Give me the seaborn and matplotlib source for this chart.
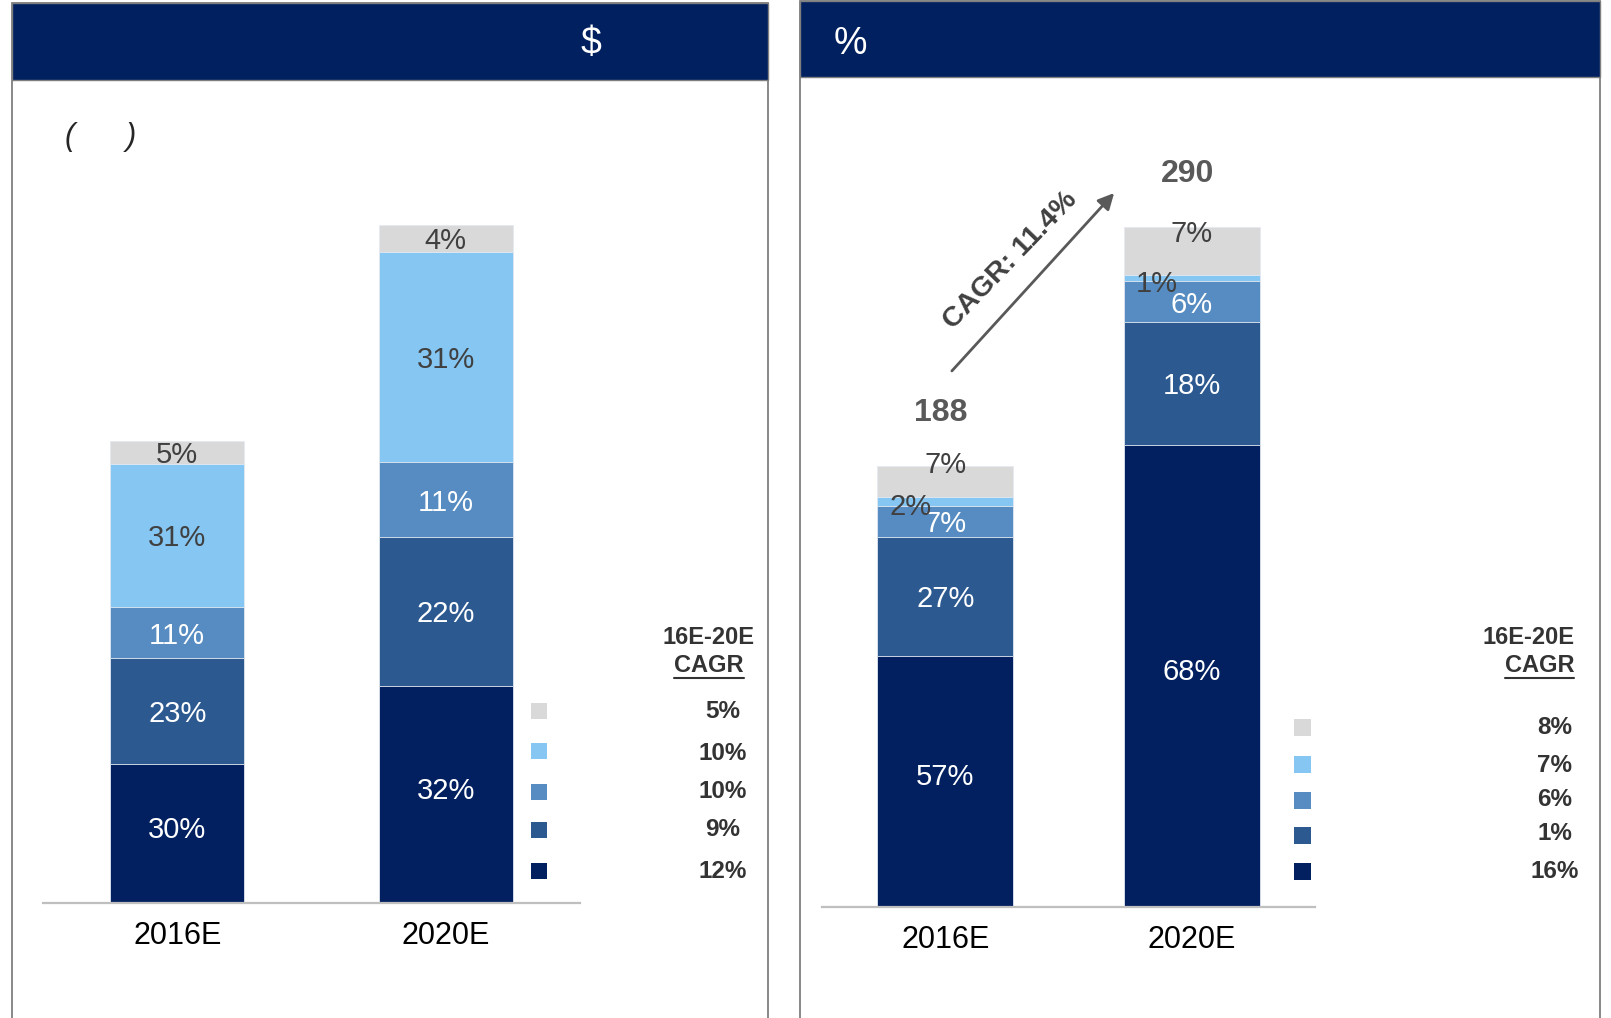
import pandas as pd
import seaborn as sns
import matplotlib.pyplot as plt
from matplotlib.patches import Rectangle
from matplotlib.lines import Line2D

# tamanho final da imagem em pixels
W, H = 1611, 1018

# dados (segmentos de baixo para cima)
anos = ["2016E", "2020E"]
segmentos = ["seg_1", "seg_2", "seg_3", "seg_4", "seg_5"]
cores = ["#02205F", "#2B5990", "#568CC1", "#85C6F3", "#D9D9D9"]
cor_texto = ["white", "white", "white", "#404040", "#404040"]

# painel esquerdo
esq_pct = [[30, 23, 11, 31, 5], [32, 22, 11, 31, 4]]
esq_totais = [150, 220]
esq_cagr = ["12%", "9%", "10%", "10%", "5%"]

# painel direito
dir_pct = [[57, 27, 7, 2, 7], [68, 18, 6, 1, 7]]
dir_totais = [188, 290]
dir_cagr = ["16%", "1%", "6%", "7%", "8%"]


def px(x, y):
    # converte pixel (origem no canto superior esquerdo) para fração da figura
    return x / W, 1 - y / H


def caixa(fig, x0, y0, x1, y1, **kw):
    (a, b), (c, d) = px(x0, y1), px(x1, y0)
    fig.add_artist(Rectangle((a, b), c - a, d - b, transform=fig.transFigure, **kw))


sns.set_style("white")
plt.rcParams['font.family'] = ['Liberation Sans', 'DejaVu Sans']

fig = plt.figure(figsize=(W / 100, H / 100), dpi=100)


def desenha_barras(ax, pcts, totais, largura, ajustes):
    linhas = []
    for ano, pct, tot in zip(anos, pcts, totais):
        acum = 0
        for seg, p in zip(segmentos, pct):
            linhas.append({"ano": ano, "seg": seg, "pct": p,
                           "base": tot * acum / 100, "topo": tot * (acum + p) / 100})
            acum += p
    df = pd.DataFrame(linhas)

    # empilhado: desenha o acumulado de cima para baixo, um por cima do outro
    for seg, cor in reversed(list(zip(segmentos, cores))):
        sns.barplot(data=df[df.seg == seg], x="ano", y="topo", order=anos,
                    color=cor, saturation=1, width=largura, errorbar=None,
                    edgecolor="#E4EAF2", linewidth=0.6, ax=ax)

    for _, r in df.iterrows():
        i = anos.index(r.ano)
        k = segmentos.index(r.seg)
        ax.annotate(f"{r.pct}%", (i, (r.base + r.topo) / 2),
                    xytext=ajustes.get(k, (0, 0)), textcoords="offset points",
                    ha="center", va="center_baseline", fontsize=21, color=cor_texto[k])

    ax.set_xlim(-0.5, 1.5)
    ax.set_xlabel("")
    ax.set_ylabel("")
    ax.set_yticks([])
    ax.set_facecolor("none")
    sns.despine(ax=ax, left=True)
    ax.spines["bottom"].set_color("#BFBFBF")
    ax.spines["bottom"].set_linewidth(1.6)
    ax.tick_params(axis="x", length=0, labelsize=22, pad=13, labelcolor="black")


# molduras e faixas de título
caixa(fig, 12, 3, 768, 1040, facecolor="none", edgecolor="#7F7F7F", lw=1.3)
caixa(fig, 12, 3, 768, 80, facecolor="#002060", edgecolor="#7F7F7F", lw=1.0)
caixa(fig, 800, 1, 1600, 1040, facecolor="none", edgecolor="#7F7F7F", lw=1.3)
caixa(fig, 800, 1, 1600, 77, facecolor="#002060", edgecolor="#7F7F7F", lw=1.0)

fig.text(*px(591, 44), "$", color="white", fontsize=27, ha="center", va="center")
fig.text(*px(850, 44), "%", color="white", fontsize=27, ha="center", va="center")
fig.text(*px(101, 137), "(      )", color="#262626", fontsize=22, style="italic",
         ha="center", va="center")

# painel esquerdo
ax1 = fig.add_axes([43 / W, 1 - 903 / H, (580 - 43) / W, 753 / H])
desenha_barras(ax1, esq_pct, esq_totais, 0.5, {0: (0, 5)})
ax1.set_ylim(0, 244.3)

# painel direito
ax2 = fig.add_axes([822 / W, 1 - 907 / H, (1315 - 822) / W, 757 / H])
desenha_barras(ax2, dir_pct, dir_totais, 0.55, {0: (0, 5), 3: (-25, -2), 4: (0, 14)})
ax2.set_ylim(0, 322.8)

for i, tot in enumerate(dir_totais):
    ax2.annotate(f"{tot}", (i, tot), xytext=(-3, 38), textcoords="offset points",
                 ha="center", va="center", fontsize=23, fontweight="bold", color="#595959")

# seta de CAGR
cagr_total = (dir_totais[1] / dir_totais[0]) ** (1 / 4) - 1
ax2.annotate("", xy=px(1116, 191), xytext=px(950, 373), xycoords="figure fraction",
             textcoords="figure fraction",
             arrowprops=dict(arrowstyle="-|>", color="#595959", lw=2, mutation_scale=24))
fig.text(*px(1010, 260), f"CAGR: {cagr_total * 100:.1f}%", rotation=46,
         rotation_mode="anchor", ha="center", va="center", fontsize=20.5,
         fontweight="bold", color="#404040")


# legendas de CAGR 16E-20E
def legenda(qx, qy, vx, vys, valores, tam, hx, ha, sub_x0, sub_x1):
    fig.text(*px(hx, 637), "16E-20E", ha=ha, va="center", fontsize=17,
             fontweight="bold", color="#333333")
    fig.text(*px(hx, 665), "CAGR", ha=ha, va="center", fontsize=17,
             fontweight="bold", color="#333333")
    (a, b), (c, _) = px(sub_x0, 678), px(sub_x1, 678)
    fig.add_artist(Line2D([a, c], [b, b], color="#333333", lw=1.5))
    for k in range(5):
        seg = 4 - k  # de cima para baixo
        caixa(fig, qx - tam / 2, qy[k] - tam / 2, qx + tam / 2, qy[k] + tam / 2,
              facecolor=cores[seg], edgecolor="none")
        fig.text(*px(vx, vys[k]), valores[seg], ha="center", va="center",
                 fontsize=17.5, fontweight="bold", color="#333333")


legenda(539, [711, 751, 792, 830, 871], 723, [712, 753, 792, 829, 872],
        esq_cagr, 16, 709, "center", 674, 744)
legenda(1302, [727, 764, 800, 835, 871], 1555, [728, 765, 799, 834, 872],
        dir_cagr, 17, 1574, "right", 1505, 1574)

plt.savefig("out.png", dpi=100)
plt.close()
